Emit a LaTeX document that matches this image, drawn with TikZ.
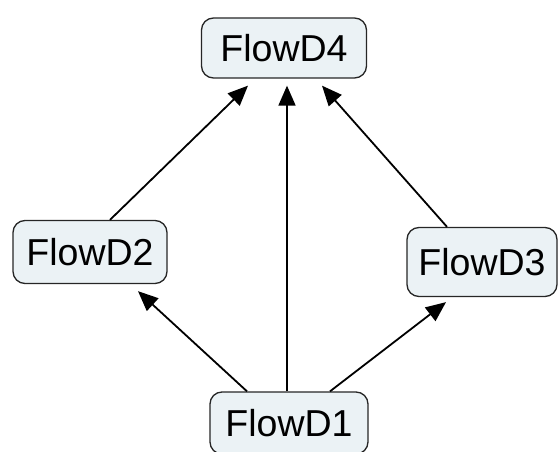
\documentclass[tikz,border=0pt]{standalone}
\usepackage{fontspec}
\setmainfont{Liberation Sans}
\usetikzlibrary{arrows.meta,calc}
\definecolor{boxfill}{HTML}{EBF2F5}
\begin{document}
\begin{tikzpicture}[x=1pt,y=-1pt,
  box/.style={draw=black!85, line width=1.3pt, rounded corners=12pt, fill=boxfill,
    inner sep=0pt, font=\fontsize{37.5}{41}\selectfont},
  link/.style={line width=1.8pt, -{Triangle[length=20pt,width=17pt]}}]
\useasboundingbox (0,0) rectangle (560,452);
\node[box, minimum width=165pt, minimum height=60pt] (d4) at (284,48) {FlowD4};
\node[box, minimum width=154pt, minimum height=63pt] (d2) at (90,252) {FlowD2};
\node[box, minimum width=150pt, minimum height=69pt] (d3) at (482,262) {FlowD3};
\node[box, minimum width=158pt, minimum height=62pt] (d1) at (289,423) {FlowD1};
\draw[link] ($(d1.north)+(-42,0)$) -- ($(d2.south)+(48,7)$);
\draw[link] ($(d1.north)+(-2,0)$) -- ($(d4.south)+(3,7)$);
\draw[link] ($(d1.north)+(41,0)$) -- ($(d3.south)+(-36,5)$);
\draw[link] ($(d2.north)+(20,0)$) -- ($(d4.south)+(-36,7)$);
\draw[link] ($(d3.north)+(-35,0)$) -- ($(d4.south)+(38,7)$);
\end{tikzpicture}
\end{document}
